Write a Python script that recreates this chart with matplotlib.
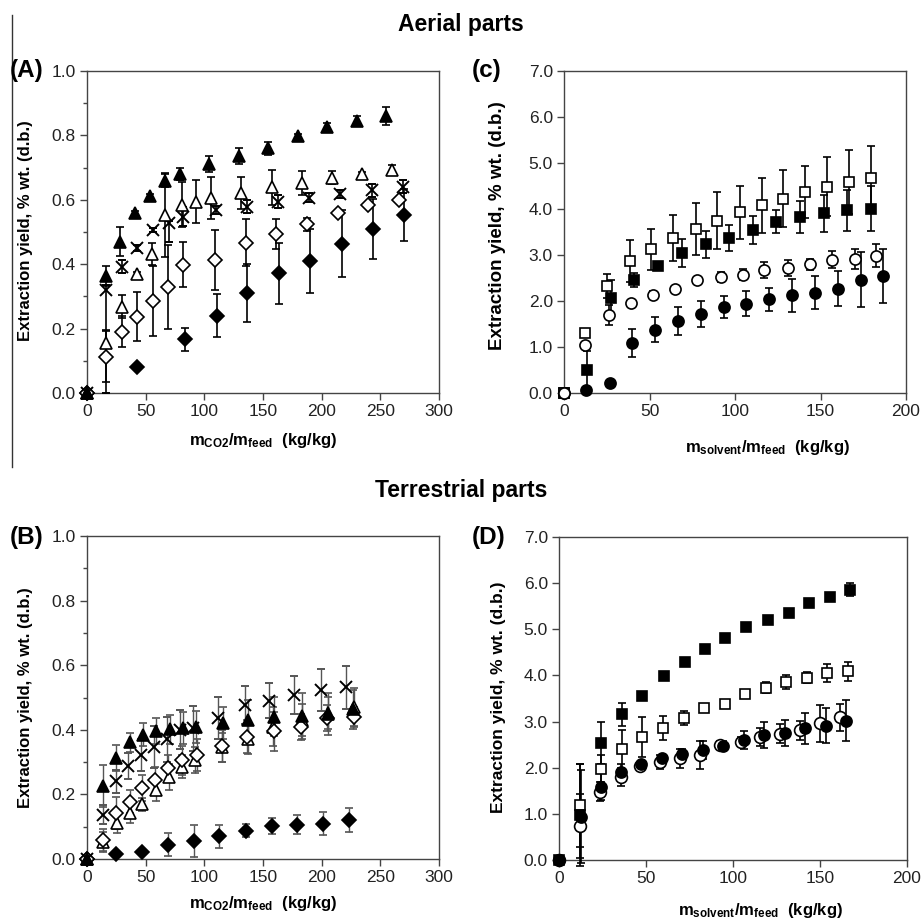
import matplotlib
matplotlib.use("Agg")
import matplotlib.pyplot as plt
from matplotlib.lines import Line2D
import numpy as np

plt.rcParams['font.family'] = ['Liberation Sans', 'DejaVu Sans']
plt.rcParams['mathtext.fontset'] = 'custom'
plt.rcParams['mathtext.rm'] = 'Liberation Sans'
plt.rcParams['mathtext.bf'] = 'Liberation Sans:bold'
plt.rcParams['mathtext.it'] = 'Liberation Sans:italic'

# ---------------- Panel A (aerial, CO2) ----------------
A_ftri_x = [0, 15.9, 27.8, 40.9, 54, 66.5, 79, 104, 129.5, 154.5, 179.5, 204.8, 229.8, 254.8]
A_ftri_y = [0, 0.363, 0.470, 0.558, 0.612, 0.659, 0.680, 0.711, 0.736, 0.760, 0.799, 0.827, 0.845, 0.860]
A_ftri_e = [0, 0.03, 0.045, 0.006, 0.006, 0.02, 0.02, 0.025, 0.025, 0.02, 0.006, 0.01, 0.015, 0.027]

A_otri_x = [0, 15.9, 29.5, 42.3, 55, 66.5, 80.7, 92.9, 105.7, 131.3, 157.4, 183, 208.5, 234, 259.7]
A_otri_y = [0, 0.156, 0.268, 0.370, 0.432, 0.553, 0.584, 0.594, 0.605, 0.620, 0.639, 0.651, 0.669, 0.680, 0.693]
A_otri_e = [0, 0.04, 0.035, 0.006, 0.035, 0.13, 0.07, 0.066, 0.065, 0.05, 0.054, 0.037, 0.02, 0.006, 0.015]

A_star_x = [0, 15.9, 29.5, 42.3, 56.5, 69.9, 82, 110, 136, 163, 189.5, 215.6, 242.6, 269]
A_star_y = [0, 0.320, 0.392, 0.451, 0.506, 0.529, 0.548, 0.568, 0.579, 0.594, 0.607, 0.617, 0.630, 0.641]
A_star_elo = [0, 0.32, 0.02, 0.01, 0.006, 0.06, 0.03, 0.012, 0.02, 0.02, 0.015, 0.012, 0.02, 0.02]
A_star_ehi = [0, 0.015, 0.02, 0.01, 0.006, 0.006, 0.03, 0.012, 0.02, 0.02, 0.015, 0.012, 0.02, 0.02]

A_odia_x = [0, 15.9, 29.5, 42.3, 56, 69.3, 82, 109, 135.2, 161, 187.8, 214.2, 239.8, 266.2]
A_odia_y = [0, 0.113, 0.190, 0.237, 0.286, 0.330, 0.398, 0.413, 0.467, 0.493, 0.524, 0.560, 0.584, 0.599]
A_odia_e = [0, 0.08, 0.048, 0.077, 0.108, 0.13, 0.07, 0.092, 0.073, 0.047, 0.02, 0.006, 0.006, 0.006]

A_fdia_x = [0, 42.9, 83.5, 110.5, 136.6, 163.9, 190, 217, 243.4, 270]
A_fdia_y = [0, 0.080, 0.167, 0.240, 0.310, 0.372, 0.410, 0.463, 0.508, 0.553]
A_fdia_e = [0, 0.006, 0.036, 0.067, 0.09, 0.095, 0.1, 0.104, 0.093, 0.08]

# ---------------- Panel c (aerial, solvent) ----------------
C_osq_x = [0, 12.5, 25.4, 38.5, 50.8, 63.9, 77, 89.6, 102.9, 115.6, 128, 141, 153.7, 166.4, 179.7]
C_osq_y = [0, 1.30, 2.32, 2.87, 3.12, 3.36, 3.56, 3.74, 3.93, 4.08, 4.22, 4.37, 4.48, 4.59, 4.67]
C_osq_e = [0, 0.05, 0.26, 0.45, 0.45, 0.5, 0.56, 0.62, 0.58, 0.6, 0.62, 0.57, 0.64, 0.69, 0.71]

C_fsq_x = [0, 13.5, 27.7, 41, 55, 69.1, 82.8, 96.5, 110.4, 124, 138, 152, 165.4, 179.5]
C_fsq_y = [0, 0.51, 2.07, 2.45, 2.75, 3.04, 3.23, 3.37, 3.54, 3.72, 3.83, 3.91, 3.97, 4.01]
C_fsq_e = [0, 0.4, 0.38, 0.15, 0.05, 0.3, 0.3, 0.28, 0.3, 0.25, 0.35, 0.4, 0.45, 0.48]

C_oci_x = [0, 12.5, 26.2, 38.9, 52.1, 65.2, 77.9, 91.6, 104.5, 117.2, 130.9, 143.6, 156.6, 170, 182.6]
C_oci_y = [0, 1.04, 1.69, 1.96, 2.14, 2.25, 2.45, 2.52, 2.57, 2.68, 2.72, 2.80, 2.90, 2.92, 2.98]
C_oci_e = [0, 0.05, 0.22, 0.05, 0.08, 0.05, 0.05, 0.1, 0.12, 0.17, 0.17, 0.12, 0.18, 0.22, 0.25]

C_fci_x = [0, 13.1, 26.8, 39.8, 53.5, 66.8, 79.9, 93.6, 106.4, 119.9, 133.2, 146.5, 160.2, 173.8, 186.5]
C_fci_y = [0, 0.06, 0.22, 1.09, 1.38, 1.57, 1.72, 1.86, 1.94, 2.04, 2.12, 2.18, 2.27, 2.46, 2.54]
C_fci_e = [0, 0.05, 0.05, 0.3, 0.28, 0.3, 0.28, 0.24, 0.27, 0.25, 0.35, 0.36, 0.38, 0.6, 0.58]

# ---------------- Panel B (terrestrial, CO2) ----------------
B_ftri_x = [0, 13.7, 24.5, 36.4, 47.8, 58.4, 70.6, 82, 92.8, 115.6, 137.5, 159.4, 183, 205, 227]
B_ftri_y = [0, 0.225, 0.312, 0.361, 0.385, 0.395, 0.402, 0.405, 0.408, 0.421, 0.431, 0.441, 0.443, 0.450, 0.464]
B_ftri_e = [0, 0.065, 0.04, 0.03, 0.035, 0.04, 0.045, 0.05, 0.05, 0.05, 0.06, 0.06, 0.07, 0.065, 0.06]

B_cross_x = [0, 13.7, 24.5, 35, 46.4, 56.9, 68.3, 79, 90.5, 111.9, 134.6, 155.4, 176.5, 199.3, 220.6]
B_cross_y = [0, 0.137, 0.240, 0.287, 0.321, 0.348, 0.371, 0.400, 0.405, 0.436, 0.477, 0.490, 0.508, 0.522, 0.531]
B_cross_e = [0, 0.03, 0.035, 0.04, 0.05, 0.065, 0.07, 0.06, 0.07, 0.065, 0.06, 0.055, 0.058, 0.065, 0.067]

B_odia_x = [0, 13.7, 24.5, 36.4, 47.3, 57.8, 69.2, 80.6, 93.4, 114.7, 136.6, 159.4, 182.2, 204.4, 227.2]
B_odia_y = [0, 0.058, 0.142, 0.178, 0.220, 0.245, 0.283, 0.305, 0.323, 0.350, 0.379, 0.395, 0.408, 0.436, 0.441]
B_odia_e = [0, 0.035, 0.05, 0.035, 0.04, 0.04, 0.04, 0.045, 0.05, 0.05, 0.05, 0.06, 0.04, 0.04, 0.03]

B_otri_x = [0, 13.9, 25.8, 36.6, 47.2, 58.5, 69.9, 80.7, 92, 114.8, 137, 158.8, 183, 205.8, 227.2]
B_otri_y = [0, 0.054, 0.110, 0.141, 0.170, 0.214, 0.253, 0.286, 0.307, 0.346, 0.370, 0.410, 0.430, 0.452, 0.470]
B_otri_e = [0, 0.03, 0.03, 0.03, 0.02, 0.035, 0.04, 0.035, 0.04, 0.045, 0.045, 0.06, 0.05, 0.05, 0.06]

B_fdia_x = [0, 24.5, 47.3, 69.2, 91.1, 112.7, 135.5, 157.4, 179.3, 201, 222.9]
B_fdia_y = [0, 0.016, 0.021, 0.044, 0.055, 0.070, 0.088, 0.101, 0.106, 0.109, 0.122]
B_fdia_e = [0, 0.01, 0.01, 0.035, 0.05, 0.035, 0.02, 0.025, 0.03, 0.035, 0.037]

# ---------------- Panel D (terrestrial, solvent) ----------------
D_fsq_x = [0, 12.3, 24.3, 36.4, 47.9, 60.2, 72.2, 83.7, 95.6, 107.7, 120.1, 132, 143.5, 155.6, 167.4]
D_fsq_y = [0, 0.97, 2.54, 3.16, 3.56, 3.98, 4.29, 4.58, 4.82, 5.05, 5.21, 5.36, 5.56, 5.71, 5.86]
D_fsq_e = [0, 1.1, 0.45, 0.25, 0.05, 0.05, 0.05, 0.05, 0.05, 0.05, 0.05, 0.05, 0.05, 0.05, 0.14]

D_osq_x = [12.3, 24.3, 36.2, 47.9, 59.8, 71.6, 83.3, 95.2, 107.1, 118.8, 130.7, 142.5, 154.2, 166.1]
D_osq_y = [1.19, 1.98, 2.40, 2.66, 2.87, 3.07, 3.30, 3.39, 3.59, 3.73, 3.85, 3.95, 4.05, 4.09]
D_osq_e = [0.9, 0.3, 0.42, 0.43, 0.26, 0.15, 0.05, 0.05, 0.05, 0.12, 0.15, 0.12, 0.2, 0.2]

D_oci_x = [0, 11.9, 23.4, 35.4, 46.4, 57.9, 69.3, 80.8, 92.3, 104.4, 115.3, 127.2, 138.7, 149.8, 161.7]
D_oci_y = [0, 0.74, 1.48, 1.80, 2.03, 2.13, 2.20, 2.27, 2.49, 2.56, 2.67, 2.74, 2.81, 2.96, 3.09]
D_oci_e = [0, 0.7, 0.2, 0.2, 0.05, 0.15, 0.2, 0.3, 0.08, 0.1, 0.2, 0.2, 0.2, 0.4, 0.3]

D_fci_x = [0, 12.8, 24.3, 35.8, 47.3, 59.2, 70.7, 82.8, 94.3, 106.1, 117.8, 129.7, 141.6, 153.3, 164.8]
D_fci_y = [0, 0.94, 1.59, 1.91, 2.08, 2.22, 2.29, 2.38, 2.47, 2.60, 2.71, 2.76, 2.85, 2.91, 3.02]
D_fci_e = [0, 1.0, 0.3, 0.16, 0.05, 0.05, 0.12, 0.2, 0.1, 0.2, 0.28, 0.28, 0.33, 0.38, 0.45]

A_xticks = [0, 50, 100, 150, 200, 250, 300]
AB_yticks = [0.0, 0.2, 0.4, 0.6, 0.8, 1.0]
CD_xticks = [0, 50, 100, 150, 200]
CD_yticks = [0.0, 1.0, 2.0, 3.0, 4.0, 5.0, 6.0, 7.0]

W, H = 922, 921
fig = plt.figure(figsize=(W / 100, H / 100), dpi=100)

def ax_at(l, t, r, b):
    return fig.add_axes([l / W, 1 - b / H, (r - l) / W, (b - t) / H])

axA = ax_at(87, 71, 439, 393)
axC = ax_at(564, 71, 906, 393)
axB = ax_at(87, 536, 439, 859)
axD = ax_at(559, 537, 907, 860)

def series(ax, x, y, e, marker, filled, ms, ecolor='black', z=3, mew=1.2, elw=1.2):
    ax.errorbar(x, y, yerr=e, fmt=marker, ms=ms,
                mfc='black' if filled else 'white', mec='black', mew=mew,
                ecolor=ecolor, elinewidth=elw, capsize=2.8, capthick=elw,
                zorder=z, clip_on=False)

# Panel A
series(axA, A_fdia_x, A_fdia_y, A_fdia_e, 'D', True, 7.3)
series(axA, A_odia_x, A_odia_y, A_odia_e, 'D', False, 7.3)
series(axA, A_star_x, A_star_y, [A_star_elo, A_star_ehi], 'x', True, 8, mew=1.4)
series(axA, A_otri_x, A_otri_y, A_otri_e, '^', False, 9)
series(axA, A_ftri_x, A_ftri_y, A_ftri_e, '^', True, 9)

# Panel c (circles on top, as at the origin of the reference)
series(axC, C_fsq_x, C_fsq_y, C_fsq_e, 's', True, 7)
series(axC, C_osq_x, C_osq_y, C_osq_e, 's', False, 7)
series(axC, C_fci_x, C_fci_y, C_fci_e, 'o', True, 8)
series(axC, C_oci_x, C_oci_y, C_oci_e, 'o', False, 8)

# Panel B
g = '#555555'
series(axB, B_fdia_x, B_fdia_y, B_fdia_e, 'D', True, 7.3, ecolor=g, elw=1.0)
series(axB, B_otri_x, B_otri_y, B_otri_e, '^', False, 9, ecolor=g, elw=1.0)
series(axB, B_odia_x, B_odia_y, B_odia_e, 'D', False, 7.3, ecolor=g, elw=1.0)
series(axB, B_cross_x, B_cross_y, B_cross_e, 'x', True, 9, ecolor=g, mew=1.4, elw=1.0)
series(axB, B_ftri_x, B_ftri_y, B_ftri_e, '^', True, 9, ecolor=g, elw=1.0)

# Panel D
series(axD, D_osq_x, D_osq_y, D_osq_e, 's', False, 7)
series(axD, D_fsq_x, D_fsq_y, D_fsq_e, 's', True, 7)
series(axD, D_oci_x, D_oci_y, D_oci_e, 'o', False, 8.5)
series(axD, D_fci_x, D_fci_y, D_fci_e, 'o', True, 8)

ylab = 'Extraction yield, % wt. (d.b.)'
xlab_co2 = r'$\mathbf{m}_{\mathbf{CO2}}\mathbf{/m}_{\mathbf{feed}}$  (kg/kg)'
xlab_sol = r'$\mathbf{m}_{\mathbf{solvent}}\mathbf{/m}_{\mathbf{feed}}$  (kg/kg)'

for ax in (axA, axB):
    ax.set_xlim(0, 300)
    ax.set_ylim(0, 1.0)
    ax.set_xticks(A_xticks)
    ax.set_xticklabels([str(t) for t in A_xticks])
    ax.set_yticks(AB_yticks)
    ax.set_yticklabels(['%.1f' % t for t in AB_yticks])
    ax.set_yticks(np.arange(0.1, 1.0, 0.2), minor=True)
for ax in (axC, axD):
    ax.set_xlim(0, 200)
    ax.set_ylim(0, 7.0)
    ax.set_xticks(CD_xticks)
    ax.set_xticklabels([str(t) for t in CD_xticks])
    ax.set_yticks(CD_yticks)
    ax.set_yticklabels(['%.1f' % t for t in CD_yticks])

for ax in (axA, axB, axC, axD):
    for s in ax.spines.values():
        s.set_color('#444444')
        s.set_linewidth(1.0)
    ax.tick_params(axis='both', which='major', direction='out', length=5,
                   width=1.0, color='#444444', labelsize=12.5, labelcolor='#222222', pad=3)
    ax.tick_params(axis='y', which='minor', direction='out', length=3, width=1.0, color='#444444')
    ax.tick_params(top=False, right=False)

axA.set_ylabel(ylab, fontsize=12, fontweight='bold')
axB.set_ylabel(ylab, fontsize=12, fontweight='bold')
axC.set_ylabel(ylab, fontsize=13.5, fontweight='bold')
axD.set_ylabel(ylab, fontsize=12.5, fontweight='bold')
axA.yaxis.set_label_coords(-0.153, 0.503)
axB.yaxis.set_label_coords(-0.153, 0.50)
axC.yaxis.set_label_coords(-0.17, 0.519)
axD.yaxis.set_label_coords(-0.152, 0.503)

axA.set_xlabel(xlab_co2, fontsize=12, fontweight='bold')
axB.set_xlabel(xlab_co2, fontsize=12, fontweight='bold')
axC.set_xlabel(xlab_sol, fontsize=12, fontweight='bold')
axD.set_xlabel(xlab_sol, fontsize=12, fontweight='bold')
axA.xaxis.set_label_coords(0.5, -0.118)
axB.xaxis.set_label_coords(0.5, -0.108)
axC.xaxis.set_label_coords(0.594, -0.14)
axD.xaxis.set_label_coords(0.578, -0.128)

fig.text(0.5, 1 - 25 / H, 'Aerial parts', ha='center', va='center', fontsize=16.5, fontweight='bold')
fig.text(0.5, 1 - 490 / H, 'Terrestrial parts', ha='center', va='center', fontsize=16.5, fontweight='bold')
for lab, x, y in (('(A)', 10, 70), ('(c)', 472, 70), ('(B)', 10, 537), ('(D)', 472, 537)):
    fig.text(x / W, 1 - y / H, lab, ha='left', va='center', fontsize=17.5, fontweight='bold')

fig.add_artist(Line2D([12 / W, 12 / W], [1 - 15 / H, 1 - 467 / H], color='#333333', lw=1.0))

fig.savefig('out.png', dpi=100)
